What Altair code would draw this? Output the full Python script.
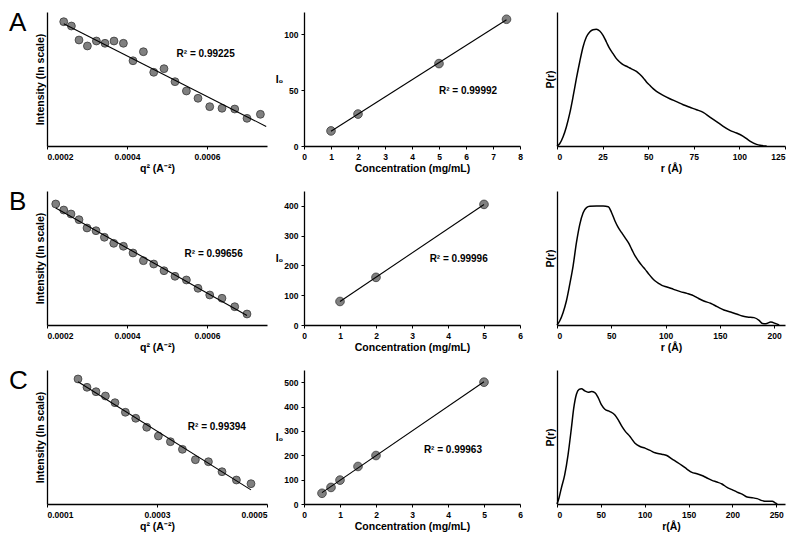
import altair as alt
import pandas as pd

FONT = "Liberation Sans"

# ---------------- Column 1: Guinier plots (ln I vs q^2) ----------------
A_q2 = [0.0002418, 0.000261, 0.00028, 0.000301, 0.0003235, 0.000345, 0.0003675,
        0.000391, 0.000415, 0.000441, 0.0004668, 0.0004925, 0.00052, 0.0005485,
        0.0005775, 0.0006068, 0.0006375, 0.0006693, 0.0007, 0.0007335]
A_lnI = [4.855, 4.791, 4.582, 4.493, 4.567, 4.533, 4.567, 4.533, 4.272, 4.407,
         4.100, 4.154, 3.960, 3.821, 3.712, 3.587, 3.563, 3.552, 3.413, 3.473]

B_q2 = [0.0002218, 0.0002418, 0.00026, 0.00028, 0.0003, 0.0003225, 0.0003435,
        0.0003668, 0.000391, 0.000415, 0.000441, 0.0004668, 0.0004925, 0.00052,
        0.0005485, 0.0005775, 0.0006068, 0.0006375, 0.0006693, 0.0007]
B_lnI = [4.806, 4.716, 4.657, 4.572, 4.448, 4.407, 4.309, 4.219, 4.175, 4.075,
         3.960, 3.910, 3.810, 3.727, 3.672, 3.548, 3.448, 3.399, 3.273, 3.164]

C_q2 = [0.0001564, 0.0001727, 0.0001891, 0.0002062, 0.0002236, 0.0002425,
        0.0002613, 0.0002813, 0.0003025, 0.0003244, 0.0003462, 0.0003698,
        0.0003935, 0.0004182, 0.0004444, 0.0004709]
C_lnI = [4.866, 4.742, 4.676, 4.612, 4.512, 4.369, 4.279, 4.145, 4.015, 3.930,
         3.816, 3.661, 3.631, 3.482, 3.358, 3.303]

G_xdomains = [[0.0002, 0.00075], [0.0002, 0.00075], [0.0001, 0.0005]]
G_xticks = [[0.0002, 0.0004, 0.0006], [0.0002, 0.0004, 0.0006], [0.0001, 0.0003, 0.0005]]
G_r2 = ["R² = 0.99225", "R² = 0.99656", "R² = 0.99394"]
G_r2_x = [0.000524, 0.000544, 0.000356]
G_r2_y = [4.373, 4.06, 4.149]

# ---------------- Column 2: I0 vs concentration ----------------
A_conc = [1, 2, 5, 7.5]
A_I0 = [13.5, 28.6, 73.8, 113.5]
B_conc = [1, 2, 5]
B_I0 = [79, 160, 405]
C_conc = [0.5, 0.75, 1, 1.5, 2, 5]
C_I0 = [44, 68, 98, 154, 199, 500]

I_xdomains = [[0, 8], [0, 6], [0, 6]]
I_xticks = [[0, 1, 2, 3, 4, 5, 6, 7, 8], [0, 1, 2, 3, 4, 5, 6], [0, 1, 2, 3, 4, 5, 6]]
I_ydomains = [[0, 120], [0, 450], [0, 550]]
I_yticks = [[0, 50, 100], [0, 100, 200, 300, 400], [0, 100, 200, 300, 400, 500]]
I_r2 = ["R² = 0.99992", "R² = 0.99996", "R² = 0.99963"]
I_r2_x = [5.0, 3.49, 3.33]
I_r2_y = [49.7, 222, 221]

# ---------------- Column 3: P(r) distributions ----------------
A_r = [0, 1.46, 3.29, 5.12, 6.95, 8.78, 10.61, 12.44, 14.27, 16.10, 17.93, 19.76,
       21.59, 23.42, 25.25, 27.08, 28.91, 30.74, 32.57, 34.40, 36.23, 38.06, 39.89,
       41.72, 43.55, 45.38, 47.21, 49.04, 50.87, 52.70, 54.53, 58.19, 61.85, 65.51,
       69.17, 72.83, 76.49, 80.15, 83.81, 87.47, 91.13, 94.79, 98.45, 102.11,
       105.77, 109.43, 111.26, 114.92]
A_P = [0, 0.017, 0.067, 0.142, 0.241, 0.366, 0.502, 0.627, 0.739, 0.813, 0.851,
       0.868, 0.871, 0.858, 0.826, 0.776, 0.726, 0.689, 0.652, 0.627, 0.607, 0.595,
       0.582, 0.570, 0.557, 0.535, 0.510, 0.478, 0.453, 0.428, 0.408, 0.378, 0.353,
       0.331, 0.308, 0.289, 0.271, 0.251, 0.216, 0.182, 0.147, 0.117, 0.097, 0.072,
       0.037, 0.012, 0.005, 0]

B_r = [0, 2.47, 5.56, 8.64, 11.73, 14.81, 17.90, 20.99, 24.07, 27.16, 30.25, 36.42,
       42.59, 47.22, 50.31, 53.40, 56.48, 59.57, 62.65, 65.74, 68.83, 71.91, 75.00,
       78.09, 81.17, 84.26, 87.35, 90.43, 93.52, 96.60, 101.23, 107.41, 113.58,
       119.75, 124.38, 129.01, 135.19, 141.36, 147.53, 153.70, 159.88, 166.05,
       170.68, 175.31, 181.48, 186.11, 189.20, 192.28, 196.91, 201.54, 204.62]
B_P = [0, 0.030, 0.092, 0.179, 0.303, 0.440, 0.614, 0.751, 0.838, 0.876, 0.886,
       0.888, 0.888, 0.883, 0.838, 0.776, 0.726, 0.689, 0.652, 0.614, 0.565, 0.515,
       0.478, 0.445, 0.415, 0.383, 0.353, 0.328, 0.311, 0.296, 0.284, 0.266, 0.249,
       0.236, 0.224, 0.204, 0.179, 0.162, 0.137, 0.112, 0.097, 0.080, 0.067, 0.060,
       0.055, 0.035, 0.012, 0.010, 0.022, 0.010, 0]

C_r = [0, 2.29, 4.96, 8.78, 12.60, 16.41, 19.08, 22.14, 25.19, 27.86, 31.68, 35.50,
       39.31, 43.13, 46.95, 50.76, 54.58, 60.31, 66.03, 69.85, 73.66, 77.48, 83.21,
       88.93, 94.66, 100.38, 106.11, 111.83, 119.47, 125.19, 130.92, 136.64, 142.37,
       148.09, 153.82, 159.54, 165.27, 170.99, 176.72, 182.44, 188.17, 193.89,
       199.62, 205.34, 211.07, 216.79, 222.52, 228.24, 233.97, 239.69, 245.42,
       249.24, 251.15]
C_P = [0, 0.045, 0.119, 0.218, 0.367, 0.566, 0.715, 0.819, 0.856, 0.861, 0.844,
       0.834, 0.839, 0.831, 0.794, 0.739, 0.707, 0.690, 0.665, 0.628, 0.583, 0.546,
       0.504, 0.454, 0.429, 0.417, 0.400, 0.382, 0.372, 0.362, 0.337, 0.313, 0.288,
       0.261, 0.236, 0.226, 0.213, 0.194, 0.176, 0.164, 0.149, 0.124, 0.107, 0.089,
       0.074, 0.052, 0.047, 0.040, 0.025, 0.020, 0.020, 0.007, 0]

P_xdomains = [[0, 125], [0, 210], [0, 260]]
P_xticks = [[0, 25, 50, 75, 100, 125], [0, 50, 100, 150, 200], [0, 50, 100, 150, 200, 250]]
P_xtitles = ["r (Å)", "r (Å)", "r(Å)"]

ROW_LABELS = ["A", "B", "C"]

H = 134
W1, W2, W3 = 220, 216, 228

point_style = dict(shape="circle", filled=False, fill="#808080", fillOpacity=1,
                   stroke="#3a3a3a", strokeWidth=0.8, opacity=1)


def r2_layer(x, y, t, xenc, yenc):
    df = pd.DataFrame({"x": [x], "y": [y], "t": [t]})
    return alt.Chart(df).mark_text(align="left", baseline="middle", font=FONT,
                                   fontWeight="bold", fontSize=10, color="black"
                                   ).encode(x=xenc, y=yenc, text="t:N")


def guinier(q2, lni, i, extent_end=None):
    df = pd.DataFrame({"x": q2, "y": lni})
    xenc = alt.X("x:Q", scale=alt.Scale(domain=G_xdomains[i], nice=False, zero=False),
                 axis=alt.Axis(values=G_xticks[i], format=".4f", title="q² (A⁻²)",
                               labelOverlap=False))
    yenc = alt.Y("y:Q", scale=alt.Scale(domain=[3, 5], nice=False, zero=False),
                 axis=alt.Axis(labels=False, ticks=False, title="Intensity (ln scale)",
                               titlePadding=2))
    base = alt.Chart(df)
    pts = base.mark_point(size=62, **point_style).encode(x=xenc, y=yenc)
    if extent_end is not None:
        reg = base.transform_regression("x", "y", extent=[min(q2), extent_end])
    else:
        reg = base.transform_regression("x", "y")
    line = reg.mark_line(color="black", strokeWidth=1.1).encode(x=xenc, y=yenc)
    txt = r2_layer(G_r2_x[i], G_r2_y[i], G_r2[i], xenc, yenc)
    lab = alt.Chart(pd.DataFrame({"t": [ROW_LABELS[i]]})).mark_text(
        align="left", baseline="alphabetic", font=FONT, fontSize=26, color="black"
    ).encode(text="t:N", x=alt.value(-38), y=alt.value(19))
    return alt.layer(pts, line, txt, lab).properties(width=W1, height=H)


def conc_panel(c, i0, i):
    df = pd.DataFrame({"x": c, "y": i0})
    xenc = alt.X("x:Q", scale=alt.Scale(domain=I_xdomains[i], nice=False),
                 axis=alt.Axis(values=I_xticks[i], title="Concentration (mg/mL)",
                               labelOverlap=False, labelFlush=False, tickCount=len(I_xticks[i])))
    yenc = alt.Y("y:Q", scale=alt.Scale(domain=I_ydomains[i], nice=False),
                 axis=alt.Axis(values=I_yticks[i], title="I₀", titleAngle=0,
                               titleAlign="right", titleBaseline="middle",
                               titlePadding=1, labelOverlap=False,
                               tickCount=len(I_yticks[i])))
    base = alt.Chart(df)
    pts = base.mark_point(size=75, **point_style).encode(x=xenc, y=yenc)
    line = base.transform_regression("x", "y").mark_line(
        color="black", strokeWidth=1.1).encode(x=xenc, y=yenc)
    txt = r2_layer(I_r2_x[i], I_r2_y[i], I_r2[i], xenc, yenc)
    return alt.layer(pts, line, txt).properties(width=W2, height=H)


def pr_panel(r, p, i):
    df = pd.DataFrame({"x": r, "y": p})
    return alt.Chart(df).mark_line(color="black", strokeWidth=1.5,
                                   interpolate="monotone").encode(
        x=alt.X("x:Q", scale=alt.Scale(domain=P_xdomains[i], nice=False),
                axis=alt.Axis(values=P_xticks[i], title=P_xtitles[i],
                              labelOverlap=False)),
        y=alt.Y("y:Q", scale=alt.Scale(domain=[0, 1], nice=False),
                axis=alt.Axis(labels=False, ticks=False, title="P(r)", titlePadding=2)),
    ).properties(width=W3, height=H)


panels = [
    guinier(A_q2, A_lnI, 0, extent_end=0.000748), conc_panel(A_conc, A_I0, 0), pr_panel(A_r, A_P, 0),
    guinier(B_q2, B_lnI, 1), conc_panel(B_conc, B_I0, 1), pr_panel(B_r, B_P, 1),
    guinier(C_q2, C_lnI, 2), conc_panel(C_conc, C_I0, 2), pr_panel(C_r, C_P, 2),
]

chart = alt.concat(*panels, columns=3).properties(
    spacing={"row": 45, "column": 37},
    bounds="flush",
    padding={"left": 1, "top": 2, "right": 2, "bottom": 2},
    background="white",
).configure_view(
    stroke=None
).configure_axis(
    grid=False,
    domainColor="black",
    domainWidth=1.3,
    tickColor="black",
    tickWidth=1,
    tickSize=3,
    labelFont=FONT,
    labelFontSize=8.5,
    labelFontWeight="bold",
    labelColor="black",
    labelPadding=3,
    labelOverlap=False,
    titleFont=FONT,
    titleFontSize=10.5,
    titleFontWeight="bold",
    titleColor="black",
    titlePadding=3,
)

chart.save("out.html", embed_options={"renderer": "svg", "actions": False})
